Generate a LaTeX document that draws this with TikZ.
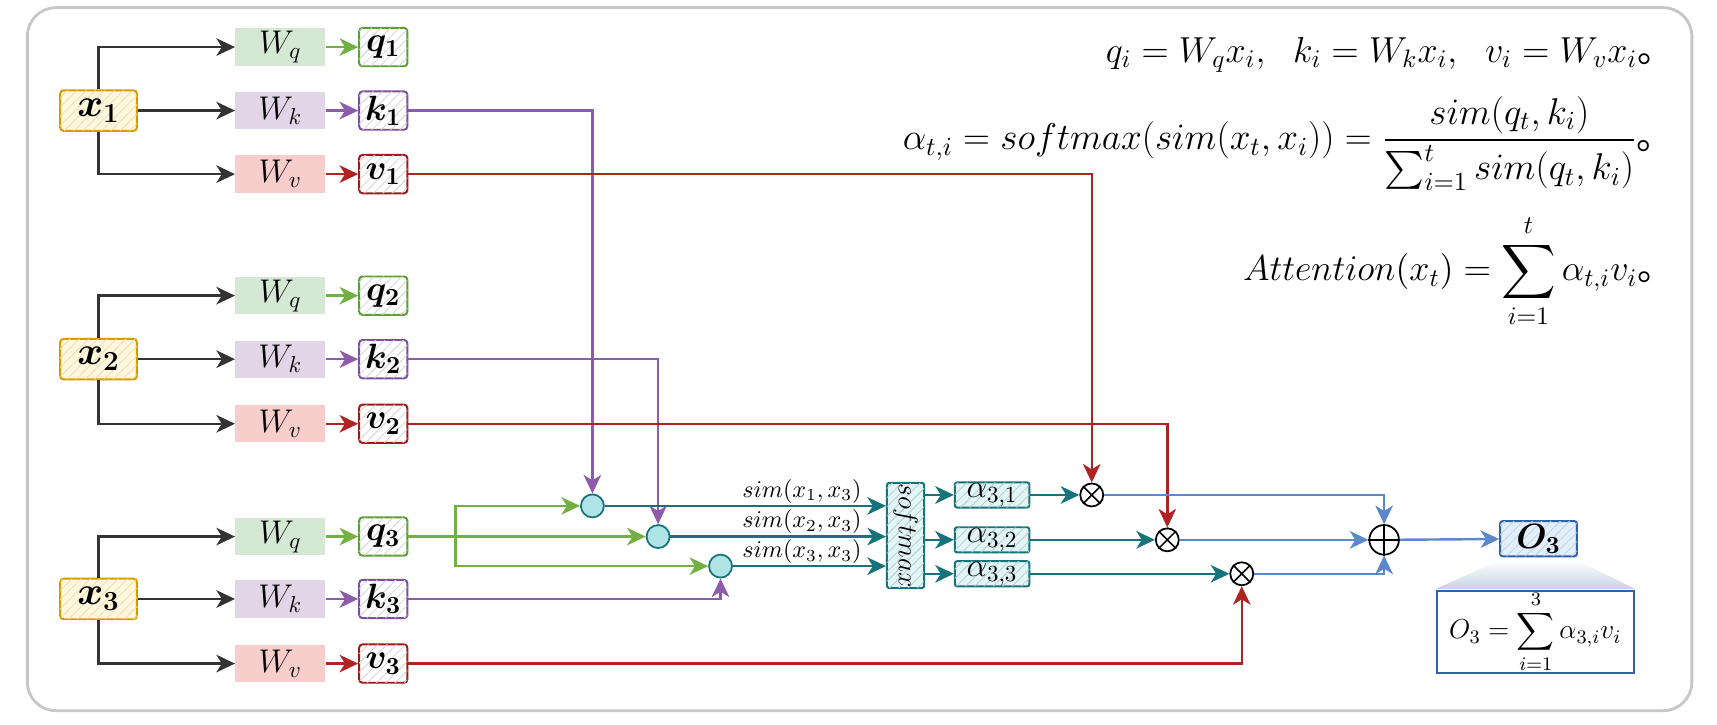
\RequirePackage{fix-cm}
\documentclass[tikz,border=0pt]{standalone}
\usepackage{amsmath,bm}
\usepackage{graphicx}
\usepackage{fontspec}
\newfontfamily\cjk{Noto Sans CJK SC}
\usetikzlibrary{arrows.meta,patterns.meta,calc}
\definecolor{xbd}{HTML}{D79B00}
\definecolor{xfl}{HTML}{FFF7E0}
\definecolor{qbd}{HTML}{5C9E31}
\definecolor{kbd}{HTML}{7B4F9E}
\definecolor{vbd}{HTML}{9E1A1A}
\definecolor{wqc}{HTML}{D5E8D4}
\definecolor{wkc}{HTML}{E1D5E7}
\definecolor{wvc}{HTML}{F8CECC}
\definecolor{grnl}{HTML}{72B043}
\definecolor{purl}{HTML}{8C5BAA}
\definecolor{redl}{HTML}{B02323}
\definecolor{tealc}{HTML}{17737B}
\definecolor{cyanf}{HTML}{B0E3E6}
\definecolor{tealf}{HTML}{E3F5F5}
\definecolor{bluel}{HTML}{5A88C8}
\definecolor{blueb}{HTML}{2F62A6}
\definecolor{bluef}{HTML}{E3EEFB}
\definecolor{arrk}{HTML}{333333}
\begin{document}
\begin{tikzpicture}[x=0.5pt,y=-0.5pt,
  arrtip/.style={-{Stealth[length=8.5pt,width=8pt,inset=2.5pt]}},
  blk/.style={draw=arrk,line width=1.1pt,arrtip},
  grn/.style={draw=grnl,line width=1.1pt,arrtip},
  pur/.style={draw=purl,line width=1.1pt,arrtip},
  rdl/.style={draw=redl,line width=1.1pt,arrtip},
  tea/.style={draw=tealc,line width=1.1pt,arrtip},
  blu/.style={draw=bluel,line width=1.1pt,arrtip},
  hatch/.style={postaction={pattern={Lines[angle=45,distance=3pt,line width=0.35pt]},pattern color=#1}},
  wbox/.style={minimum width=41pt,minimum height=17pt,inner sep=0pt,font=\fontsize{15}{17}\selectfont},
  xbox/.style={draw=xbd,fill=xfl,line width=0.9pt,rounded corners=1.5pt,minimum width=35pt,minimum height=18.5pt,inner sep=0pt,font=\fontsize{18}{20}\selectfont,hatch=xbd!35},
  vecbox/.style={draw=#1,fill=white,line width=0.9pt,rounded corners=1.5pt,minimum width=22pt,minimum height=17.5pt,inner sep=0pt,font=\fontsize{16}{18}\selectfont,hatch=gray!35},
  simc/.style={circle,draw=tealc,fill=cyanf,line width=0.8pt,minimum size=10.5pt,inner sep=0pt},
  opc/.style={circle,draw=black,fill=white,line width=0.8pt,minimum size=#1,inner sep=0pt},
  abox/.style={draw=tealc,fill=tealf,line width=0.9pt,rounded corners=1pt,minimum width=34pt,minimum height=11.5pt,inner sep=0pt,font=\fontsize{15}{17}\selectfont,hatch=tealc!35},
  fml/.style={anchor=east,inner sep=0pt,font=\fontsize{16.5}{19}\selectfont}
]
\useasboundingbox (0,0) rectangle (1568,662);
\draw[black!22,line width=1.3pt,rounded corners=13pt] (25,7) rectangle (1545,649);

\foreach \i/\yq/\yk/\yv in {1/43/101/159,2/270/328/387,3/490/547/606}{
  \node[xbox] (x\i) at (90,\yk) {$\bm{x_{\i}}$};
  \node[wbox,fill=wqc] (wq\i) at (256,\yq) {$W_q$};
  \node[wbox,fill=wkc] (wk\i) at (256,\yk) {$W_k$};
  \node[wbox,fill=wvc] (wv\i) at (256,\yv) {$W_v$};
  \node[vecbox=qbd] (q\i) at (350,\yq) {$\bm{q_{\i}}$};
  \node[vecbox=kbd] (k\i) at (350,\yk) {$\bm{k_{\i}}$};
  \node[vecbox=vbd] (v\i) at (350,\yv) {$\bm{v_{\i}}$};
  \draw[blk] (x\i.north) |- (wq\i.west);
  \draw[blk] (x\i.east) -- (wk\i.west);
  \draw[blk] (x\i.south) |- (wv\i.west);
  \draw[grn] (wq\i) -- (q\i);
  \draw[pur] (wk\i) -- (k\i);
  \draw[rdl] (wv\i) -- (v\i);
}

% similarity circles
\node[simc] (c1) at (541,462) {};
\node[simc] (c2) at (601,490) {};
\node[simc] (c3) at (658,517) {};
\coordinate (g) at (416,490);
\draw[draw=grnl,line width=1.1pt] (q3.east) -- (g);
\draw[grn] (g) |- (c1.west);
\draw[grn] (g) -- (c2.west);
\draw[grn] (g) |- (c3.west);
\draw[pur] (k1) -| (c1);
\draw[pur] (k2) -| (c2);
\draw[pur] (k3) -| (c3);

% softmax
\node[draw=tealc,fill=tealf,line width=0.9pt,rounded corners=1pt,minimum width=17pt,minimum height=48pt,inner sep=0pt,hatch=tealc!35] (sm) at (827,489) {\rotatebox{-90}{\fontsize{12.5}{14}\selectfont$softmax$}};
\draw[tea] (c1) -- (c1 -| sm.west);
\draw[tea] (c2) -- (c2 -| sm.west);
\draw[tea] (c3) -- (c3 -| sm.west);
\node[anchor=south east,inner sep=1pt,font=\fontsize{11}{12}\selectfont] (s1) at ($(c1 -| sm.west)+(-20,0)$) {$sim(x_1,x_3)$};
\node[anchor=south east,inner sep=1pt,font=\fontsize{11}{12}\selectfont] (s2) at ($(c2 -| sm.west)+(-20,0)$) {$sim(x_2,x_3)$};
\node[anchor=south east,inner sep=1pt,font=\fontsize{11}{12}\selectfont] (s3) at ($(c3 -| sm.west)+(-20,0)$) {$sim(x_3,x_3)$};

% alpha boxes
\node[abox] (a1) at (906,452) {$\alpha_{3,1}$};
\node[abox] (a2) at (906,493) {$\alpha_{3,2}$};
\node[abox] (a3) at (906,524) {$\alpha_{3,3}$};
\draw[tea] (sm.east |- a1) -- (a1.west);
\draw[tea] (sm.east |- a2) -- (a2.west);
\draw[tea] (sm.east |- a3) -- (a3.west);

% multiply nodes
\node[opc=10.5pt] (o1) at (997,452) {};
\node[opc=10.5pt] (o2) at (1066,493) {};
\node[opc=10.5pt] (o3) at (1134,524) {};
\foreach \n in {o1,o2,o3}{
  \draw[line width=0.7pt] (\n.45) -- (\n.225) (\n.135) -- (\n.315);
}
\draw[tea] (a1) -- (o1);
\draw[tea] (a2) -- (o2);
\draw[tea] (a3) -- (o3);
\draw[rdl] (v1) -| (o1);
\draw[rdl] (v2) -| (o2);
\draw[rdl] (v3) -| (o3);

% sum node
\node[opc=13.5pt] (op) at (1264,493) {};
\draw[line width=0.7pt] (op.north) -- (op.south) (op.east) -- (op.west);
\draw[blu] (o1) -| (op);
\draw[blu] (o2) -- (op);
\draw[blu] (o3) -| (op);

% output
\node[draw=blueb,fill=bluef,line width=0.9pt,rounded corners=1pt,minimum width=35pt,minimum height=16pt,inner sep=0pt,font=\fontsize{16}{18}\selectfont,hatch=blueb!30] (O3) at (1405,492) {$\bm{O_3}$};
\draw[blu] (op) -- (O3);
\node[draw=blueb,fill=white,line width=0.9pt,minimum width=90pt,minimum height=37pt,inner sep=0pt,font=\fontsize{12.5}{14}\selectfont] (fb) at (1402,577) {$O_3=\displaystyle\sum_{i=1}^{3}\alpha_{3,i}v_i$};
\shade[top color=white,bottom color=blueb!35,opacity=0.8] ($(O3.south west)+(0,3)$) -- ($(O3.south east)+(0,3)$) -- ($(fb.north east)+(0,-1)$) -- ($(fb.north west)+(0,-1)$) -- cycle;

% formulas
\node[fml] (f1) at (1512,50) {$q_i = W_qx_i,\ \ k_i = W_kx_i,\ \ v_i = W_vx_i\makebox[0.5em][l]{\cjk 。}$};
\node[fml,font=\fontsize{17}{20}\selectfont] (f2) at (1512,131) {$\alpha_{t,i} = softmax(sim(x_t,x_i)) = \dfrac{sim(q_t,k_i)}{\sum_{i=1}^{t} sim(q_t,k_i)}\makebox[0.5em][l]{\cjk 。}$};
\node[fml] (f3) at (1512,248) {$Attention(x_t) = \displaystyle\sum_{i=1}^{t}\alpha_{t,i}v_i\makebox[0.5em][l]{\cjk 。}$};
\end{tikzpicture}
\end{document}
